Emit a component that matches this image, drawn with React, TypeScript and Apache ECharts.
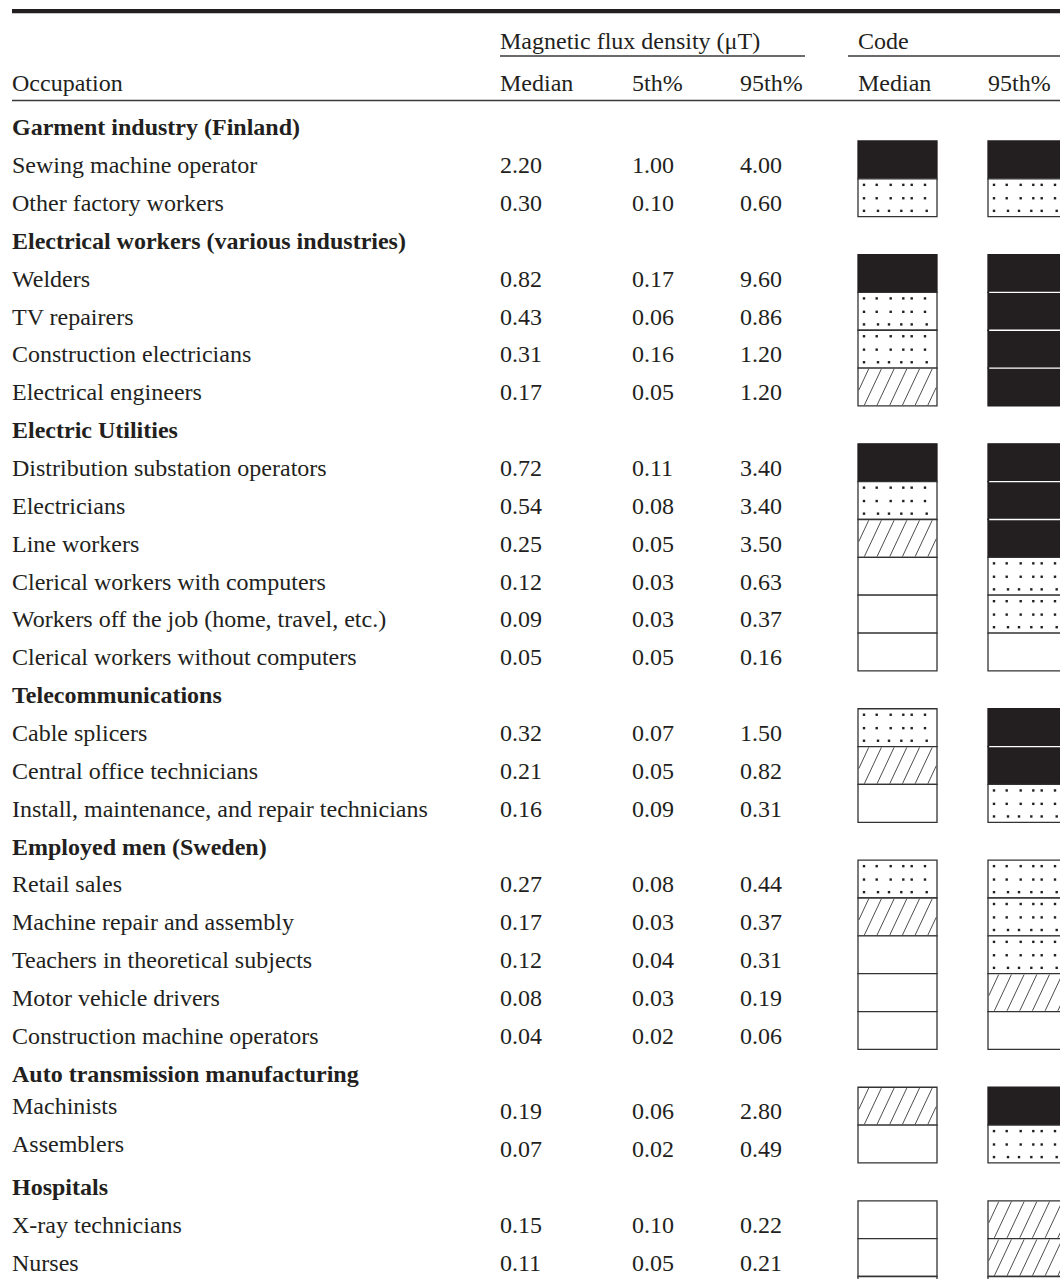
import React, { useEffect, useRef } from "react";
import * as echarts from "echarts";

// ---------- data ----------
const occupations = [
  "Garment industry (Finland)",
  "Sewing machine operator",
  "Other factory workers",
  "Electrical workers (various industries)",
  "Welders",
  "TV repairers",
  "Construction electricians",
  "Electrical engineers",
  "Electric Utilities",
  "Distribution substation operators",
  "Electricians",
  "Line workers",
  "Clerical workers with computers",
  "Workers off the job (home, travel, etc.)",
  "Clerical workers without computers",
  "Telecommunications",
  "Cable splicers",
  "Central office technicians",
  "Install, maintenance, and repair technicians",
  "Employed men (Sweden)",
  "Retail sales",
  "Machine repair and assembly",
  "Teachers in theoretical subjects",
  "Motor vehicle drivers",
  "Construction machine operators",
  "Auto transmission manufacturing",
  "Machinists",
  "Assemblers",
  "Hospitals",
  "X-ray technicians",
  "Nurses",
  "",
];

const groupHeaders = [
  "Garment industry (Finland)",
  "Electrical workers (various industries)",
  "Electric Utilities",
  "Telecommunications",
  "Employed men (Sweden)",
  "Auto transmission manufacturing",
  "Hospitals",
];

const medianValues = [null, 2.2, 0.3, null, 0.82, 0.43, 0.31, 0.17, null, 0.72, 0.54, 0.25, 0.12, 0.09, 0.05, null, 0.32, 0.21, 0.16, null, 0.27, 0.17, 0.12, 0.08, 0.04, null, 0.19, 0.07, null, 0.15, 0.11, null];
const p5Values = [null, 1.0, 0.1, null, 0.17, 0.06, 0.16, 0.05, null, 0.11, 0.08, 0.05, 0.03, 0.03, 0.05, null, 0.07, 0.05, 0.09, null, 0.08, 0.03, 0.04, 0.03, 0.02, null, 0.06, 0.02, null, 0.1, 0.05, null];
const p95Values = [null, 4.0, 0.6, null, 9.6, 0.86, 1.2, 1.2, null, 3.4, 3.4, 3.5, 0.63, 0.37, 0.16, null, 1.5, 0.82, 0.31, null, 0.44, 0.37, 0.31, 0.19, 0.06, null, 2.8, 0.49, null, 0.22, 0.21, null];

// code patterns: black, dots, hatch, white
const medianCodes = [null, "black", "dots", null, "black", "dots", "dots", "hatch", null, "black", "dots", "hatch", "white", "white", "white", null, "dots", "hatch", "white", null, "dots", "hatch", "white", "white", "white", null, "hatch", "white", null, "white", "white", "white"];
const p95Codes = [null, "black", "dots", null, "black", "black", "black", "black", null, "black", "black", "black", "dots", "dots", "white", null, "black", "black", "dots", null, "dots", "dots", "dots", "hatch", "white", null, "black", "dots", null, "hatch", "hatch", "white"];

const spannerLabels = ["Magnetic flux density (\u03bcT)", "Code"];
const columnLabels = ["Occupation", "Median", "5th%", "95th%", "Median", "95th%"];

// ---------- layout / style ----------
const W = 1060;
const H = 1279;
const INK = "#231f20";
const FONT = "'Liberation Serif', 'Times New Roman', Times, serif";
const FS = 24;
const ROW_PITCH = 37.85;
const GRID_TOP = 103.15;
const ROWS_VISIBLE = (H - GRID_TOP) / ROW_PITCH;
const TEXT_DY = 5.3;
const COL_X = { label: 12, median: 500, p5: 632, p95: 740, codeMedian: 858, code95: 988 };
const BOX_W = 79;
const LABEL_SHIFT: Record<number, number> = { 26: -5, 27: -5 };
const DOT_ROWS = [
  { dy: 6, xs: [6, 18.7, 32.7, 45.3, 53.7, 67] },
  { dy: 19.4, xs: [6, 18.7, 32.7, 45.3, 53.7, 67] },
  { dy: 32, xs: [6, 20, 31, 43.3, 53.7, 68.7, 78] },
];

function boxElements(L: number, T: number, w: number, h: number, code: string, prev: string | null) {
  const els: any[] = [];
  if (code === "black") {
    els.push({ type: "rect", shape: { x: L, y: T, width: w, height: h }, style: { fill: INK, stroke: INK, lineWidth: 1.3 } });
    if (prev === "black") {
      els.push({ type: "line", shape: { x1: L + 1.2, y1: T, x2: L + w - 1.2, y2: T }, style: { stroke: "#ffffff", lineWidth: 1.3 } });
    }
    return els;
  }
  els.push({ type: "rect", shape: { x: L, y: T, width: w, height: h }, style: { fill: "#ffffff", stroke: "#333333", lineWidth: 1.3 } });
  if (code === "dots") {
    DOT_ROWS.forEach((row) => {
      row.xs.forEach((dx) => {
        if (dx < w - 1) {
          els.push({ type: "rect", shape: { x: L + dx - 1.2, y: T + row.dy - 1.2, width: 2.4, height: 2.4 }, style: { fill: INK } });
        }
      });
    });
  } else if (code === "hatch") {
    const slope = 0.45;
    const spacing = 12.7;
    const B = T + h;
    const R = L + w;
    for (let k = -4; k < 8; k++) {
      const xTop = L + 10.7 + spacing * k;
      const xb = xTop - h * slope;
      let x1 = xb, y1 = B - 0.8;
      if (x1 < L + 0.8) { x1 = L + 0.8; y1 = B - (x1 - xb) / slope; }
      let x2 = xTop, y2 = T + 0.8;
      if (x2 > R - 0.8) { x2 = R - 0.8; y2 = B - (x2 - xb) / slope; }
      if (y1 - y2 < 1 || x1 > R || x2 < L) continue;
      els.push({ type: "line", shape: { x1, y1, x2, y2 }, style: { stroke: "#3a3a3a", lineWidth: 0.9 } });
    }
  }
  return els;
}

function textEl(x: number, y: number, text: string, bold = false) {
  return {
    type: "text",
    x,
    y,
    style: {
      text,
      fontFamily: FONT,
      fontSize: FS,
      fontWeight: bold ? "bold" : "normal",
      fill: INK,
      textAlign: "left",
      textVerticalAlign: "middle",
    },
  };
}

export default function App() {
  const ref = useRef<HTMLDivElement>(null);

  useEffect(() => {
    if (!ref.current) return;
    const chart = echarts.init(ref.current, null, { renderer: "svg" });

    const fmt = (v: number | null) => (v == null ? "" : v.toFixed(2));

    const option: any = {
      animation: false,
      backgroundColor: "#ffffff",
      grid: { left: 0, right: 0, top: GRID_TOP, bottom: 0, containLabel: false },
      xAxis: { type: "value", min: 0, max: W, show: false },
      yAxis: { type: "value", min: 0, max: ROWS_VISIBLE, inverse: true, show: false },
      graphic: [
        { type: "rect", shape: { x: 12, y: 9, width: W - 12, height: 4.3 }, style: { fill: INK } },
        textEl(500, 41.2, spannerLabels[0]),
        textEl(858, 41.2, spannerLabels[1]),
        { type: "line", shape: { x1: 500, y1: 56, x2: 805, y2: 56 }, style: { stroke: "#3a3a3a", lineWidth: 1.3 } },
        { type: "line", shape: { x1: 848, y1: 56, x2: W, y2: 56 }, style: { stroke: "#3a3a3a", lineWidth: 1.3 } },
        textEl(COL_X.label, 82.6, columnLabels[0]),
        textEl(COL_X.median, 82.6, columnLabels[1]),
        textEl(COL_X.p5, 82.6, columnLabels[2]),
        textEl(COL_X.p95, 82.6, columnLabels[3]),
        textEl(COL_X.codeMedian, 82.6, columnLabels[4]),
        textEl(COL_X.code95, 82.6, columnLabels[5]),
        { type: "line", shape: { x1: 12, y1: 100.5, x2: W, y2: 100.5 }, style: { stroke: "#3a3a3a", lineWidth: 1.5 } },
      ],
      series: [
        {
          type: "custom",
          clip: false,
          data: occupations.map((_, i) => [0, i]),
          encode: { x: 0, y: 1 },
          renderItem: (params: any, api: any) => {
            const r = params.dataIndex;
            const top = api.coord([0, r])[1];
            const bottom = api.coord([0, r + 1])[1];
            const h = bottom - top;
            const yc = (top + bottom) / 2;
            const ty = yc + TEXT_DY;
            const px = (v: number) => api.coord([v, r])[0];
            const children: any[] = [];
            const label = occupations[r];
            if (label) {
              children.push(textEl(px(COL_X.label), ty + (LABEL_SHIFT[r] || 0), label, groupHeaders.includes(label)));
            }
            if (medianValues[r] != null) {
              children.push(textEl(px(COL_X.median), ty, fmt(medianValues[r])));
              children.push(textEl(px(COL_X.p5), ty, fmt(p5Values[r])));
              children.push(textEl(px(COL_X.p95), ty, fmt(p95Values[r])));
            }
            const mc = medianCodes[r];
            if (mc) children.push(...boxElements(px(COL_X.codeMedian), top, BOX_W, h, mc, r > 0 ? medianCodes[r - 1] : null));
            const pc = p95Codes[r];
            if (pc) children.push(...boxElements(px(COL_X.code95), top, BOX_W, h, pc, r > 0 ? p95Codes[r - 1] : null));
            return { type: "group", children };
          },
        },
      ],
    };

    chart.setOption(option);
    return () => chart.dispose();
  }, []);

  return (
    <div
      ref={ref}
      style={{ position: "absolute", left: 0, top: 0, width: W, height: H, background: "#ffffff" }}
    />
  );
}
